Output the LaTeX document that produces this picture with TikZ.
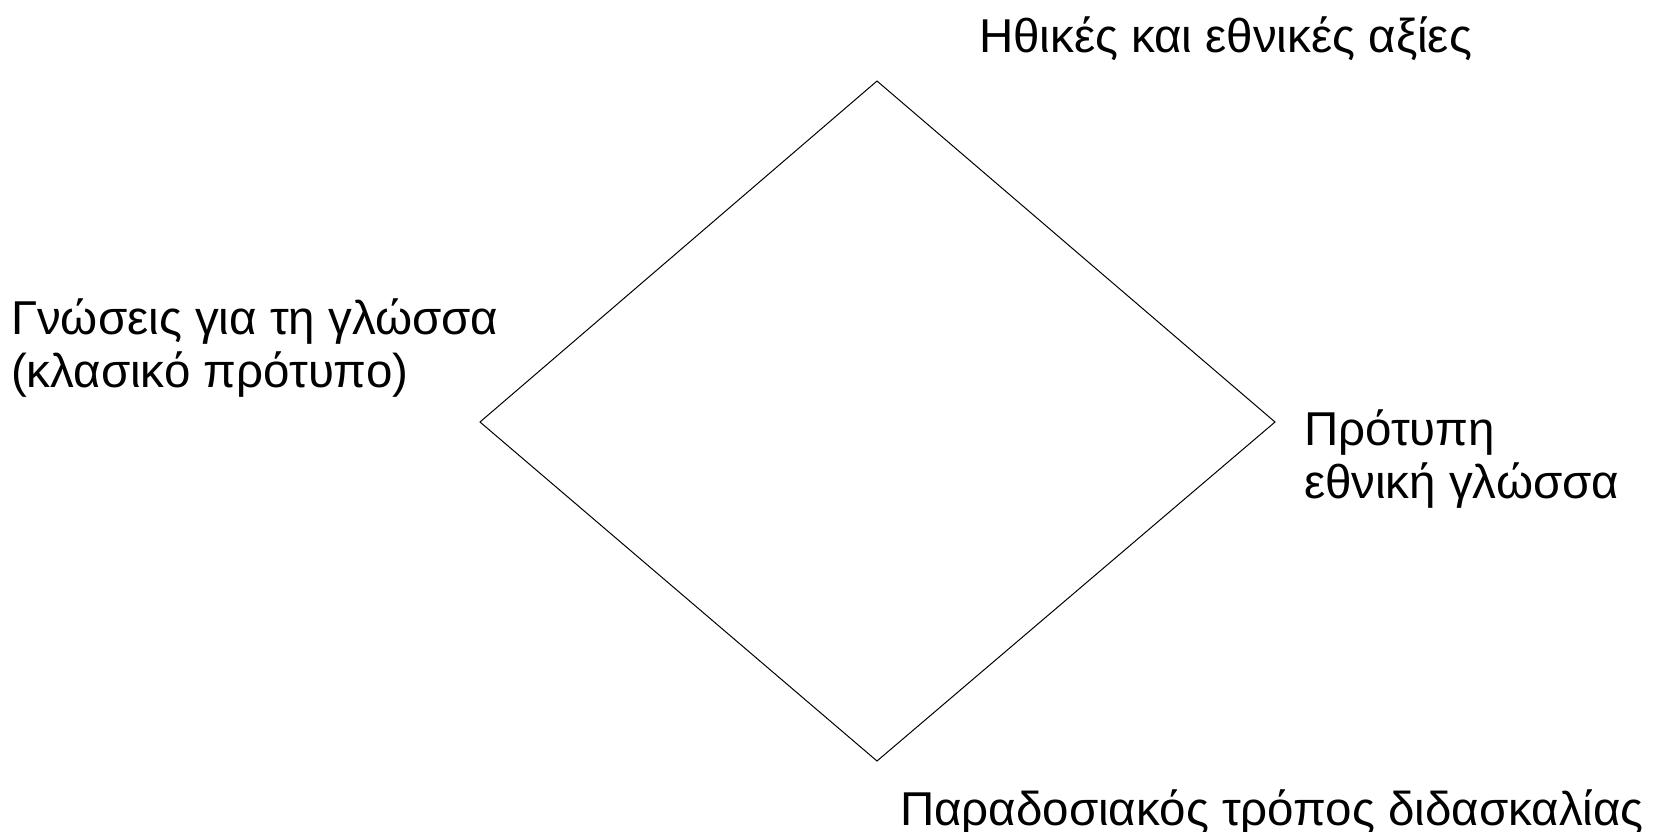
\documentclass[tikz,border=0pt]{standalone}
\usepackage{fontspec}
\setmainfont{Liberation Sans}
\begin{document}
\begin{tikzpicture}[x=1pt,y=-1pt,
  lbl/.style={inner sep=0pt,outer sep=0pt,font=\fontsize{47.5}{53}\selectfont,align=left,anchor=base west},
  edge/.style={draw=black,line width=1pt}]
\useasboundingbox (0,0) rectangle (1662,831);
\coordinate (T) at (877,81);
\coordinate (L) at (480,422);
\coordinate (R) at (1275,422);
\coordinate (B) at (877,761);
\draw[edge] (T) -- (R) -- (B) -- (L) -- cycle;
\node[lbl] (top) at (979,52) {Ηθικές και εθνικές αξίες};
\node[lbl] (left) at (11,387) {Γνώσεις για τη γλώσσα\\(κλασικό πρότυπο)};
\node[lbl] (right) at (1304,498) {Πρότυπη\\εθνική γλώσσα};
\node[lbl] (bottom) at (900,825) {Παραδοσιακός τρόπος διδασκαλίας};
\end{tikzpicture}
\end{document}
